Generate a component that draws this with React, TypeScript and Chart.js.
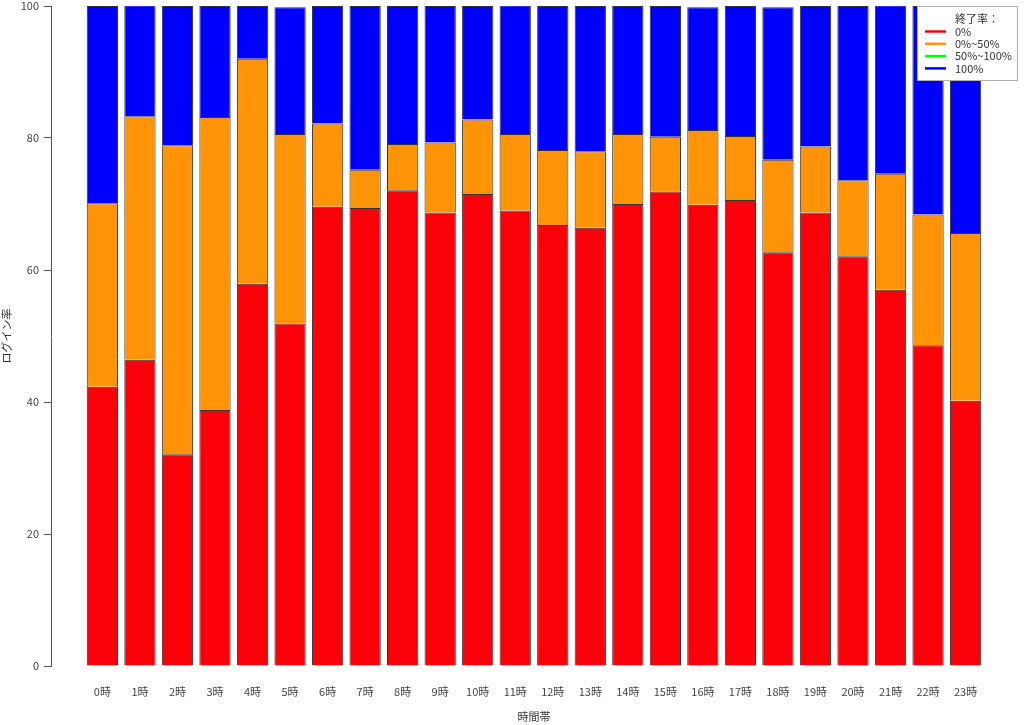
import React, { useEffect, useRef } from 'react';
import { Chart, registerables } from 'chart.js';

Chart.register(...registerables);

// ---- data ----
const hours = ['0時', '1時', '2時', '3時', '4時', '5時', '6時', '7時', '8時', '9時', '10時', '11時',
  '12時', '13時', '14時', '15時', '16時', '17時', '18時', '19時', '20時', '21時', '22時', '23時'];

const seriesLabels = ['0%', '0%~50%', '50%~100%', '100%'];
const seriesColors = ['#FA0008', '#FF9408', '#00FF00', '#0000FF'];

// segment heights (%) per hour
const rate0 = [42.3, 46.4, 32.1, 38.8, 57.9, 51.9, 69.6, 69.4, 72.1, 68.7, 71.5, 69.0,
  66.8, 66.4, 70.0, 71.9, 69.9, 70.6, 62.7, 68.7, 62.1, 57.0, 48.6, 40.2];
const rate0to50 = [27.8, 36.9, 46.8, 44.4, 34.1, 28.7, 12.6, 5.8, 7.0, 10.6, 11.3, 11.6,
  11.4, 11.6, 10.6, 8.3, 11.3, 9.7, 14.0, 10.0, 11.5, 17.6, 19.8, 25.4];
const rate50to100 = [0, 0, 0, 0, 0, 0, 0, 0, 0, 0, 0, 0, 0, 0, 0, 0, 0, 0, 0, 0, 0, 0, 0, 0];
const rate100 = [29.9, 16.8, 21.1, 16.8, 8.0, 19.2, 17.8, 24.8, 20.9, 20.7, 17.2, 19.5,
  21.8, 22.0, 19.4, 19.8, 18.6, 19.7, 23.1, 21.3, 26.4, 25.5, 31.6, 34.4];

const yTicks = [0, 20, 40, 60, 80, 100];
const legendTitle = '終了率：';
const xTitle = '時間帯';
const yTitle = 'ログイン率';

const FONT = '"Noto Sans CJK JP", "Noto Sans", sans-serif';

const legendPlugin = {
  id: 'rLegend',
  afterDraw(chart: any) {
    const ctx = chart.ctx;
    const area = chart.chartArea;
    const w = 100;
    const h = 74;
    const x0 = area.right - w;
    const y0 = area.top;
    ctx.save();
    ctx.fillStyle = '#ffffff';
    ctx.fillRect(x0, y0, w, h);
    ctx.strokeStyle = '#b0b0b0';
    ctx.lineWidth = 1;
    ctx.strokeRect(x0 + 0.5, y0 + 0.5, w, h);
    ctx.font = `11px ${FONT}`;
    ctx.fillStyle = '#333333';
    ctx.textBaseline = 'middle';
    ctx.textAlign = 'left';
    const textX = x0 + 38;
    ctx.fillText(legendTitle, textX, y0 + 13);
    chart.data.datasets.forEach((ds: any, i: number) => {
      const y = y0 + 25.5 + i * 12.3;
      ctx.strokeStyle = ds.backgroundColor;
      ctx.lineWidth = 2.5;
      ctx.beginPath();
      ctx.moveTo(x0 + 8, y);
      ctx.lineTo(x0 + 29, y);
      ctx.stroke();
      ctx.fillStyle = '#333333';
      ctx.fillText(ds.label, textX, y);
    });
    ctx.restore();
  },
};

export default function App() {
  const ref = useRef<HTMLCanvasElement | null>(null);

  useEffect(() => {
    document.body.style.margin = '0';
    const canvas = ref.current;
    if (!canvas) return;
    const seriesValues = [rate0, rate0to50, rate50to100, rate100];
    const chart = new Chart(canvas, {
      type: 'bar',
      data: {
        datasets: seriesValues.map((vals, k) => ({
          label: seriesLabels[k],
          data: vals.map((v, i) => ({ x: i, y: v })),
          backgroundColor: seriesColors[k],
          borderColor: '#333333',
          borderWidth: 1,
          stack: 's',
          categoryPercentage: 1,
          barPercentage: 1 / 1.2,
        })),
      },
      options: {
        responsive: false,
        animation: false,
        layout: { padding: { top: 6, right: 7, left: 0, bottom: 0 } },
        plugins: {
          legend: { display: false },
          tooltip: { enabled: false },
        },
        scales: {
          x: {
            type: 'linear',
            stacked: true,
            offset: false,
            min: -1.37,
            max: 24.37,
            grid: { display: false, drawTicks: false, offset: false },
            border: { display: false },
            afterBuildTicks: (scale: any) => {
              scale.ticks = hours.map((_, i) => ({ value: i }));
            },
            afterFit: (scale: any) => {
              scale.height = 59;
              scale.paddingLeft = 0;
              scale.paddingRight = 0;
            },
            ticks: {
              autoSkip: false,
              maxRotation: 0,
              padding: 19,
              color: '#444444',
              font: { family: FONT, size: 11 },
              callback: (v: any) => hours[v] ?? '',
            },
            title: {
              display: true,
              text: xTitle,
              color: '#333333',
              font: { family: FONT, size: 11 },
              padding: { top: 0, bottom: 2 },
            },
          },
          y: {
            type: 'linear',
            stacked: true,
            min: 0,
            max: 100,
            afterBuildTicks: (scale: any) => {
              scale.ticks = yTicks.map((v) => ({ value: v }));
            },
            afterFit: (scale: any) => {
              scale.width = 51;
              scale.paddingTop = 0;
              scale.paddingBottom = 0;
            },
            grid: {
              drawOnChartArea: false,
              drawTicks: true,
              tickLength: 7,
              color: '#555555',
            },
            border: { display: true, color: '#555555' },
            ticks: {
              padding: 5,
              color: '#444444',
              font: { family: FONT, size: 11 },
            },
            title: {
              display: true,
              text: yTitle,
              color: '#333333',
              font: { family: FONT, size: 11 },
              padding: { top: 0, bottom: 0 },
            },
          },
        },
      },
      plugins: [legendPlugin],
    });
    return () => chart.destroy();
  }, []);

  return (
    <div style={{ position: 'fixed', left: 0, top: 0, width: 1024, height: 725, background: '#fff' }}>
      <canvas ref={ref} width={1024} height={725} style={{ width: 1024, height: 725, display: 'block' }} />
    </div>
  );
}
